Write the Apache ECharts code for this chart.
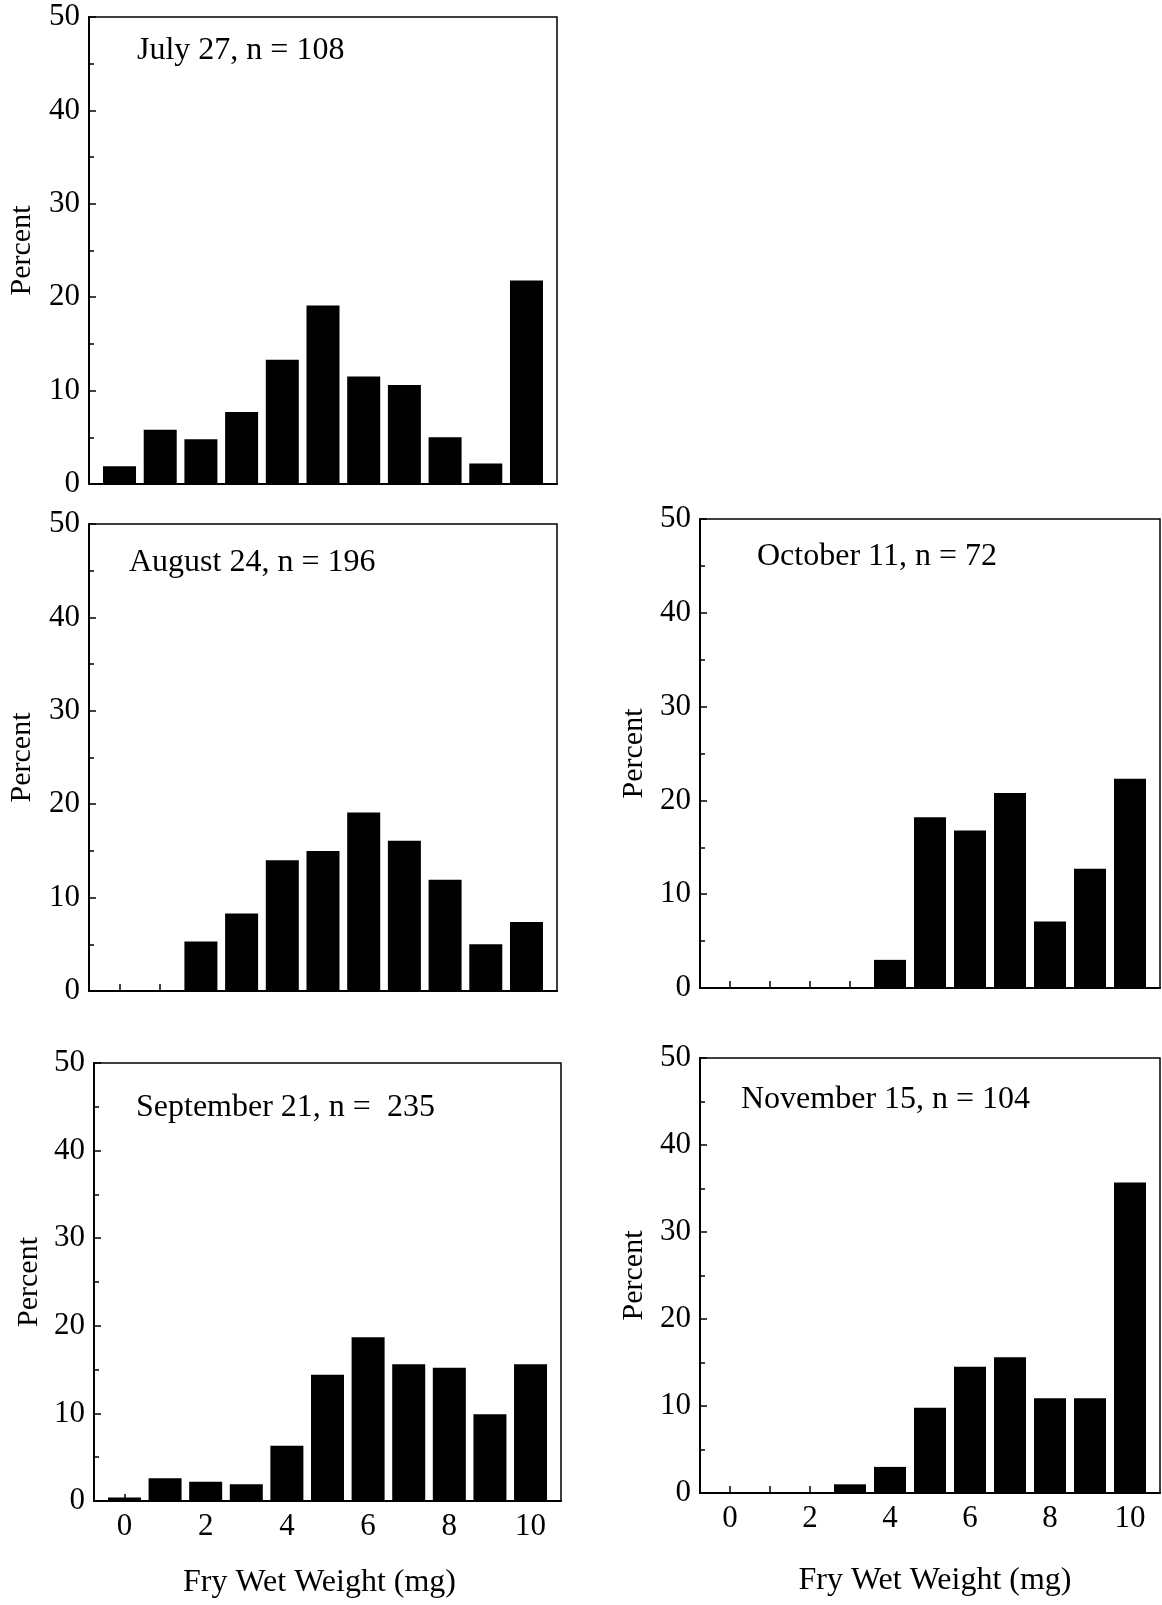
<!DOCTYPE html>
<html>
<head>
<meta charset="utf-8">
<script src="https://cdn.jsdelivr.net/npm/echarts@6/dist/echarts.min.js"></script>
<style>
  html, body { margin: 0; padding: 0; background: #fff; }
  #main { width: 1162px; height: 1605px; }
</style>
</head>
<body>
<div id="main"></div>
<script>
// fry wet weight classes (mg) and tick labels
var weights = [0, 1, 2, 3, 4, 5, 6, 7, 8, 9, 10];
var weightLabels = [0, 2, 4, 6, 8, 10];
var percentTicks = [0, 10, 20, 30, 40, 50];

// percent of sample in each weight class
var july27 = [1.9, 5.8, 4.8, 7.7, 13.3, 19.1, 11.5, 10.6, 5.0, 2.2, 21.8];
var aug24 = [0, 0, 5.3, 8.3, 14.0, 15.0, 19.1, 16.1, 11.9, 5.0, 7.4];
var sep21 = [0.4, 2.6, 2.2, 1.9, 6.3, 14.4, 18.7, 15.6, 15.2, 9.9, 15.6];
var oct11 = [0, 0, 0, 0, 3.0, 18.2, 16.8, 20.8, 7.1, 12.7, 22.3];
var nov15 = [0, 0, 0, 1.0, 3.0, 9.8, 14.5, 15.6, 10.9, 10.9, 35.7];

var titles = ['July 27, n = 108', 'August 24, n = 196', 'September 21, n =  235',
              'October 11, n = 72', 'November 15, n = 104'];

var font = 'Liberation Serif';

// layout of each panel (pixels)
var panels = [
  {data: july27, grid: {left: 89, top: 17, width: 468, height: 467}, title: [137, 35], gap: 52, bottom: false, bw: 33},
  {data: aug24,  grid: {left: 89, top: 524, width: 468, height: 467}, title: [129, 547], gap: 52, bottom: false, bw: 33},
  {data: sep21,  grid: {left: 94, top: 1063, width: 467, height: 438}, title: [136, 1092], gap: 50, bottom: true, bw: 33, ng: 66, np: [0, 16, 0, 0]},
  {data: oct11,  grid: {left: 700, top: 519, width: 460, height: 469}, title: [757, 541], gap: 51, bottom: false, bw: 32},
  {data: nov15,  grid: {left: 700, top: 1058, width: 460, height: 435}, title: [741, 1084], gap: 51, bottom: true, bw: 32, ng: 72, np: [0, 0, 0, 10]}
];

var myChart = echarts.init(document.getElementById('main'));

var option = {
  backgroundColor: '#fff',
  animation: false,
  title: [],
  grid: [],
  xAxis: [],
  yAxis: [],
  series: []
};

panels.forEach(function (p, i) {
  option.title.push({
    text: titles[i],
    left: p.title[0],
    top: p.title[1],
    padding: 0,
    textStyle: {fontFamily: font, fontSize: 32, fontWeight: 'normal', color: '#000'}
  });
  option.grid.push(Object.assign({
    show: true, borderColor: '#000', borderWidth: 1.5, backgroundColor: 'transparent'
  }, p.grid));
  option.xAxis.push({
    type: 'value',
    gridIndex: i,
    min: -0.75,
    max: 10.75,
    splitLine: {show: false},
    axisLine: {show: true, onZero: false, lineStyle: {color: '#000', width: 2}},
    axisTick: {show: true, inside: true, length: 7, customValues: weights, lineStyle: {color: '#000', width: 1.5}},
    axisLabel: {
      show: p.bottom, customValues: weightLabels, margin: 10,
      fontFamily: font, fontSize: 31, color: '#000'
    },
    name: p.bottom ? 'Fry Wet Weight (mg)' : '',
    nameLocation: 'middle',
    nameGap: p.ng || 66,
    nameTextStyle: {fontFamily: font, fontSize: 32, color: '#000', padding: p.np || 0}
  });
  option.yAxis.push({
    type: 'value',
    gridIndex: i,
    min: 0,
    max: 50,
    interval: 10,
    splitLine: {show: false},
    axisLine: {show: true, onZero: false, lineStyle: {color: '#000', width: 2}},
    axisTick: {show: true, inside: true, length: 7, lineStyle: {color: '#000', width: 1.5}},
    minorTick: {show: true, splitNumber: 2, length: 5, lineStyle: {color: '#000', width: 1.5}},
    axisLabel: {
      customValues: percentTicks, margin: 9, padding: [4, 0, 0, 0],
      fontFamily: font, fontSize: 31, color: '#000'
    },
    name: 'Percent',
    nameLocation: 'middle',
    nameGap: p.gap,
    nameTextStyle: {fontFamily: font, fontSize: 30, color: '#000'}
  });
  option.series.push({
    type: 'bar',
    xAxisIndex: i,
    yAxisIndex: i,
    barWidth: p.bw,
    itemStyle: {color: '#000'},
    data: weights.map(function (w, k) { return [w, p.data[k]]; })
  });
});

myChart.setOption(option);
</script>
</body>
</html>
